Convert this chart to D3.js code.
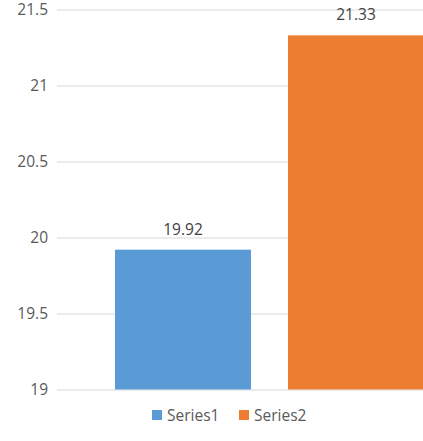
<!DOCTYPE html>
<html><head><meta charset="utf-8">
<script src="https://cdn.jsdelivr.net/npm/d3@7"></script>
<style>body{margin:0;background:#fff}svg{display:block}text{font-family:"Open Sans",sans-serif}</style>
</head><body>
<script>
const series = ["Series1", "Series2"];
const values = [19.92, 21.33];
const colors = ["#5B9BD5", "#ED7D31"];
const yTicks = [19, 19.5, 20, 20.5, 21, 21.5];

const W = 423, H = 441;
const svg = d3.select("body").append("svg").attr("width", W).attr("height", H);

const y = d3.scaleLinear().domain([19, 21.5]).range([389.5, 9.5]);
const x = d3.scaleBand().domain(series).range([96.5, 442.5]).paddingInner(0.214).paddingOuter(0.107);

const yAxis = d3.axisLeft(y).tickValues(yTicks).tickSize(-(W - 57)).tickPadding(9)
  .tickFormat(d => String(d));
const g = svg.append("g").attr("transform", "translate(57,0)").call(yAxis);
g.select(".domain").remove();
g.selectAll(".tick line").attr("stroke", "#D9D9D9").attr("stroke-width", 1);
g.selectAll(".tick text").attr("fill", "#595959").style("font-size", "15.5px").attr("dy", "0.35em");

svg.selectAll("rect.bar").data(values).enter().append("rect").attr("class", "bar")
  .attr("x", (d, i) => x(series[i])).attr("width", x.bandwidth())
  .attr("y", d => y(d)).attr("height", d => y(19) - y(d))
  .attr("fill", (d, i) => colors[i]);

svg.selectAll("text.val").data(values).enter().append("text").attr("class", "val")
  .attr("x", (d, i) => x(series[i]) + x.bandwidth() / 2)
  .attr("y", d => y(d) - 15)
  .attr("text-anchor", "middle").attr("fill", "#404040").style("font-size", "15.5px")
  .text(d => d.toFixed(2));

const legX = [152, 239];
const leg = svg.selectAll("g.leg").data(series).enter().append("g").attr("class", "leg")
  .attr("transform", (d, i) => `translate(${legX[i]},410)`);
leg.append("rect").attr("width", 10).attr("height", 10).attr("fill", (d, i) => colors[i]);
leg.append("text").attr("x", 15).attr("y", 11).attr("fill", "#595959").style("font-size", "15.5px").text(d => d);
</script>
</body></html>
